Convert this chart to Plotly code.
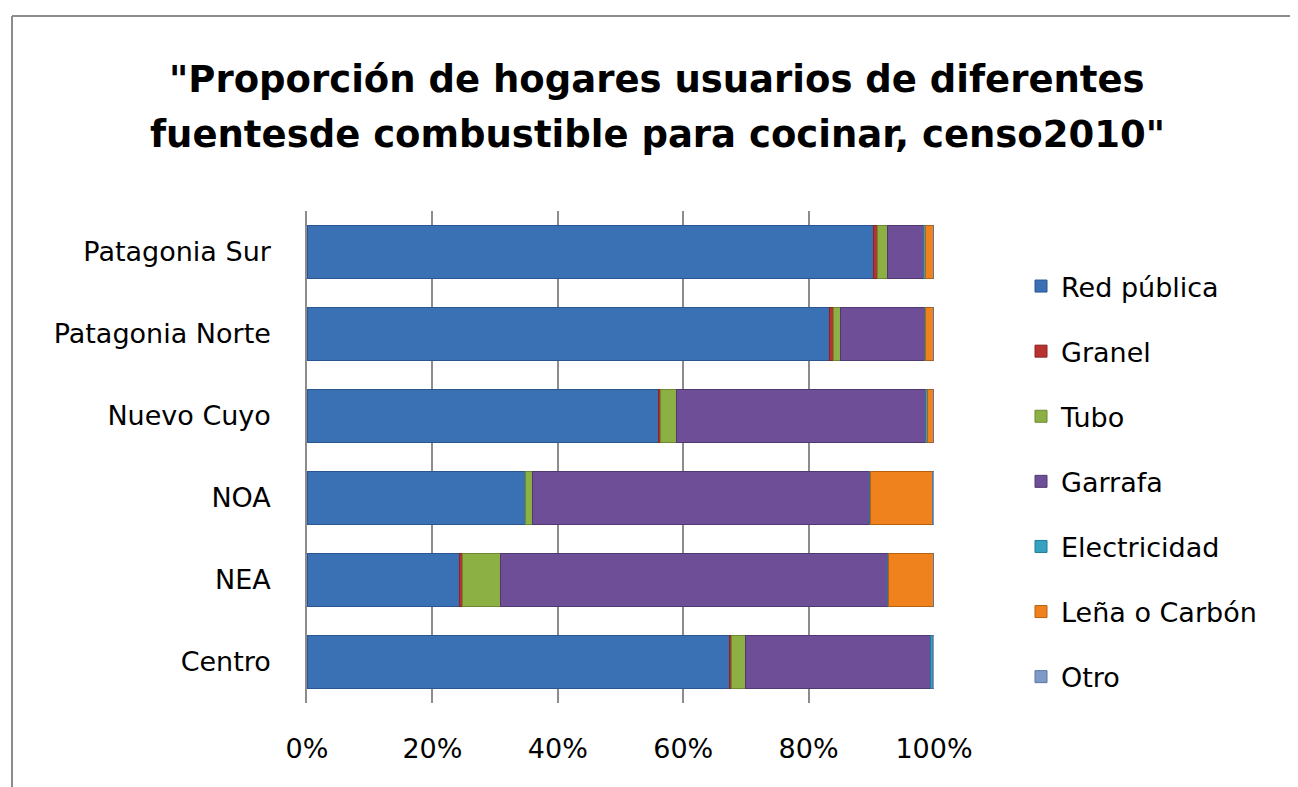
import plotly.graph_objects as go

regiones = ["Centro", "NEA", "NOA", "Nuevo Cuyo", "Patagonia Norte", "Patagonia Sur"]

red_publica  = [67.4, 24.3, 34.8, 56.0, 83.3, 90.3]
granel       = [0.3, 0.5, 0.1, 0.3, 0.7, 0.7]
tubo         = [2.3, 6.1, 1.1, 2.7, 1.1, 1.6]
garrafa      = [29.4, 61.7, 53.7, 39.7, 13.4, 5.8]
electricidad = [0.3, 0.1, 0.1, 0.2, 0.1, 0.2]
lena_carbon  = [0.0, 7.2, 9.9, 1.0, 1.3, 1.3]
otro         = [0.3, 0.1, 0.3, 0.1, 0.1, 0.1]

series = [
    ("Red pública", red_publica, "#3A70B4", "#2A5590"),
    ("Granel", granel, "#B8332F", "#8A2522"),
    ("Tubo", tubo, "#8DB044", "#6A8A30"),
    ("Garrafa", garrafa, "#6E4E96", "#503870"),
    ("Electricidad", electricidad, "#35A2C2", "#207A95"),
    ("Leña o Carbón", lena_carbon, "#F0821E", "#B86010"),
    ("Otro", otro, "#7E9BC8", "#5A76A0"),
]

x_ticks = [0, 20, 40, 60, 80, 100]
x_tick_labels = ["0%", "20%", "40%", "60%", "80%", "100%"]

title_lines = [
    '"Proporción de hogares usuarios de diferentes',
    'fuentesde combustible para cocinar, censo2010"',
]

fig = go.Figure()
for i, (name, vals, col, edge) in enumerate(series):
    fig.add_trace(go.Bar(
        y=regiones, x=vals, name=name, orientation="h",
        marker=dict(color=col, line=dict(color=edge, width=1)),
        legendgroup=name,
    ))

# page body has an 8px offset; figure coordinates = screen - 8
OFF = 8
PX0, PX1 = 307 - OFF, 934 - OFF
PY0, PY1 = 211 - OFF, 703 - OFF
W, H = 1298, 787
PW, PH = PX1 - PX0, PY1 - PY0

def px(x):
    return (x - OFF - PX0) / PW

def py(y):
    return (PY1 - (y - OFF)) / PH

FONT = "DejaVu Sans"
annotations = []
for line, yc in zip(title_lines, [80, 135]):
    annotations.append(dict(
        text="<b>" + line + "</b>", xref="paper", yref="paper",
        x=px(657), y=py(yc), xanchor="center", yanchor="middle",
        showarrow=False, font=dict(family=FONT, size=37, color="black"),
    ))

fig.update_layout(
    barmode="stack",
    bargap=0.35,
    width=W, height=H,
    margin=dict(l=PX0, r=W - PX1, t=PY0, b=H - PY1),
    paper_bgcolor="white", plot_bgcolor="white",
    font=dict(family=FONT, size=27, color="black"),
    annotations=annotations,
    xaxis=dict(
        range=[0, 100], tickvals=x_ticks, ticktext=x_tick_labels,
        showgrid=True, gridcolor="#8C8C8C", gridwidth=1.5,
        zeroline=False, showline=False, ticks="",
        ticklabelstandoff=27, tickfont=dict(size=27),
        fixedrange=True,
    ),
    yaxis=dict(
        showgrid=False, zeroline=False, showline=True, linecolor="#8C8C8C", linewidth=1.5,
        ticks="", ticklabelstandoff=29, tickfont=dict(size=27),
        fixedrange=True,
    ),
    legend=dict(
        x=px(1021), xanchor="left", y=py(262), yanchor="top",
        traceorder="grouped", tracegroupgap=27,
        font=dict(size=27), bgcolor="rgba(0,0,0,0)",
    ),
    shapes=[
        dict(type="line", xref="paper", yref="paper",
             x0=px(12), x1=px(1310), y0=py(16), y1=py(16),
             line=dict(color="#8C8C8C", width=2)),
        dict(type="line", xref="paper", yref="paper",
             x0=px(12), x1=px(12), y0=py(16), y1=py(800),
             line=dict(color="#8C8C8C", width=2)),
    ],
)

fig.write_html("out.html")
